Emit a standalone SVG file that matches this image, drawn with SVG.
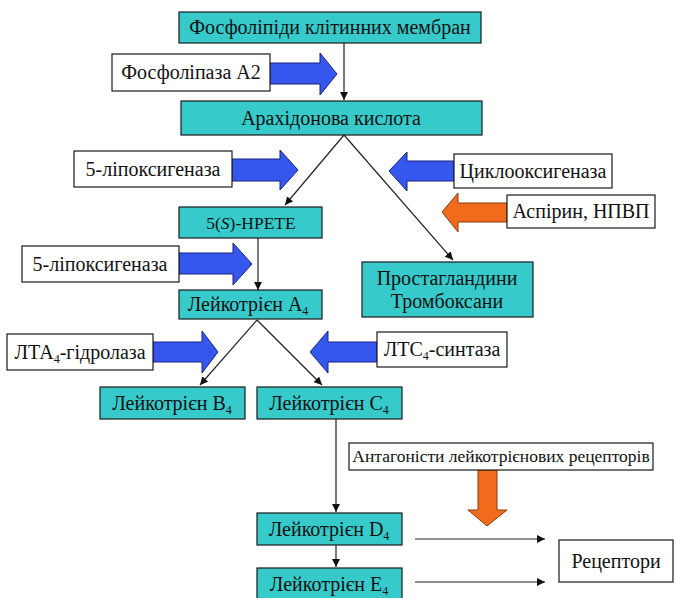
<svg xmlns="http://www.w3.org/2000/svg" width="675" height="598" viewBox="0 0 675 598">
<style>
text{font-family:'Liberation Serif','DejaVu Serif',serif;fill:#111;text-anchor:middle}
.t{font-size:20px}
.s{font-size:17.5px}
.node{fill:#36CACA;stroke:#1a1a1a;stroke-width:1.2}
.lab{fill:#fff;stroke:#1a1a1a;stroke-width:1.2}
.blue{fill:#3557EE;stroke:#1a237e;stroke-width:1}
.orange{fill:#F26A1B;stroke:#8a3a0a;stroke-width:1}
.ln{stroke:#222;stroke-width:1.2;fill:none;marker-end:url(#ah)}
.sub{font-size:12px}
</style>
<defs>
<marker id="ah" viewBox="0 0 10 10" refX="10" refY="5" markerWidth="8" markerHeight="8" markerUnits="userSpaceOnUse" orient="auto">
<path d="M0,0 L10,5 L0,10 z" fill="#111"/>
</marker>
</defs>
<rect width="675" height="598" fill="#fff"/>
<g id="connectors">
<line class="ln" x1="344" y1="43" x2="344" y2="100"/>
<line class="ln" x1="344" y1="135" x2="285" y2="205"/>
<line class="ln" x1="344" y1="135" x2="453" y2="260"/>
<line class="ln" x1="258" y1="238" x2="258" y2="290"/>
<line class="ln" x1="257" y1="320" x2="200" y2="385"/>
<line class="ln" x1="257" y1="320" x2="322" y2="385"/>
<line class="ln" x1="336" y1="419" x2="336" y2="512"/>
<line class="ln" x1="336" y1="545" x2="336" y2="567"/>
<line class="ln" x1="415" y1="539" x2="545" y2="539"/>
<line class="ln" x1="415" y1="582" x2="545" y2="582"/>
</g>
<g id="arrows">
<polygon class="blue" points="270,63 320,63 320,53 337,74 320,95 320,84 270,84"/>
<polygon class="blue" points="232,159 280,159 280,150 298,170 280,190 280,181 232,181"/>
<polygon class="blue" points="179,253 233,253 233,243 252,264 233,285 233,274 179,274"/>
<polygon class="blue" points="153,342 202,342 202,331 218,352 202,373 202,362 153,362"/>
<polygon class="blue" points="377,342 328,342 328,331 310,352 328,373 328,362 377,362"/>
<polygon class="blue" points="454,161 407,161 407,152 389,171 407,191 407,181 454,181"/>
<polygon class="orange" points="507,203 458,203 458,193 442,212 458,232 458,222 507,222"/>
<polygon class="orange" points="478,470 497,470 497,510 507,510 487,526 468,510 478,510"/>
</g>
<g id="n-phospholipids"><rect class="node" x="179" y="12" width="302" height="31"/><text class="t" x="330" y="34">Фосфоліпіди клітинних мембран</text></g>
<g id="n-pla2"><rect class="lab" x="112" y="54" width="158" height="37"/><text class="t" x="191" y="79">Фосфоліпаза А2</text></g>
<g id="n-arachidonic"><rect class="node" x="181" y="101" width="301" height="34"/><text class="t" x="331" y="125">Арахідонова кислота</text></g>
<g id="n-5lox1"><rect class="lab" x="74" y="151" width="158" height="36"/><text class="t" x="153" y="176">5-ліпоксигеназа</text></g>
<g id="n-cox"><rect class="lab" x="454" y="154" width="158" height="34"/><text class="t" x="533" y="178">Циклооксигеназа</text></g>
<g id="n-aspirin"><rect class="lab" x="507" y="195" width="148" height="33"/><text class="t" x="581" y="218">Аспірин, НПВП</text></g>
<g id="n-hpete"><rect class="node" x="179" y="207" width="143" height="31"/><text class="s" x="251" y="229">5(<tspan font-style="italic">S</tspan>)-HPETE</text></g>
<g id="n-5lox2"><rect class="lab" x="22" y="246" width="157" height="36"/><text class="t" x="100" y="271">5-ліпоксигеназа</text></g>
<g id="n-prostaglandins"><rect class="node" x="362" y="262" width="171" height="55"/><text class="t" x="447" y="285">Простагландини</text><text class="t" x="447" y="308">Тромбоксани</text></g>
<g id="n-lta4"><rect class="node" x="179" y="290" width="143" height="29"/><text class="t" x="248" y="311">Лейкотрієн А<tspan class="sub" dy="4">4</tspan></text></g>
<g id="n-lta4h"><rect class="lab" x="7" y="334" width="146" height="36"/><text class="t" x="80" y="359">ЛТА<tspan class="sub" dy="4">4</tspan><tspan dy="-4">-гідролаза</tspan></text></g>
<g id="n-ltc4s"><rect class="lab" x="377" y="332" width="130" height="35"/><text class="t" x="442" y="356">ЛТС<tspan class="sub" dy="4">4</tspan><tspan dy="-4">-синтаза</tspan></text></g>
<g id="n-ltb4"><rect class="node" x="100" y="387" width="145" height="32"/><text class="t" x="172" y="410">Лейкотрієн В<tspan class="sub" dy="4">4</tspan></text></g>
<g id="n-ltc4"><rect class="node" x="257" y="387" width="145" height="32"/><text class="t" x="329" y="410">Лейкотрієн С<tspan class="sub" dy="4">4</tspan></text></g>
<g id="n-antagonists"><rect class="lab" x="349" y="443" width="304" height="27"/><text class="s" x="501" y="462">Антагоністи лейкотрієнових рецепторів</text></g>
<g id="n-ltd4"><rect class="node" x="257" y="513" width="145" height="32"/><text class="t" x="329" y="536">Лейкотрієн D<tspan class="sub" dy="4">4</tspan></text></g>
<g id="n-lte4"><rect class="node" x="257" y="568" width="145" height="32"/><text class="t" x="329" y="591">Лейкотрієн Е<tspan class="sub" dy="4">4</tspan></text></g>
<g id="n-receptors"><rect class="lab" x="559" y="540" width="114" height="42"/><text class="t" x="616" y="568">Рецептори</text></g>
</svg>
